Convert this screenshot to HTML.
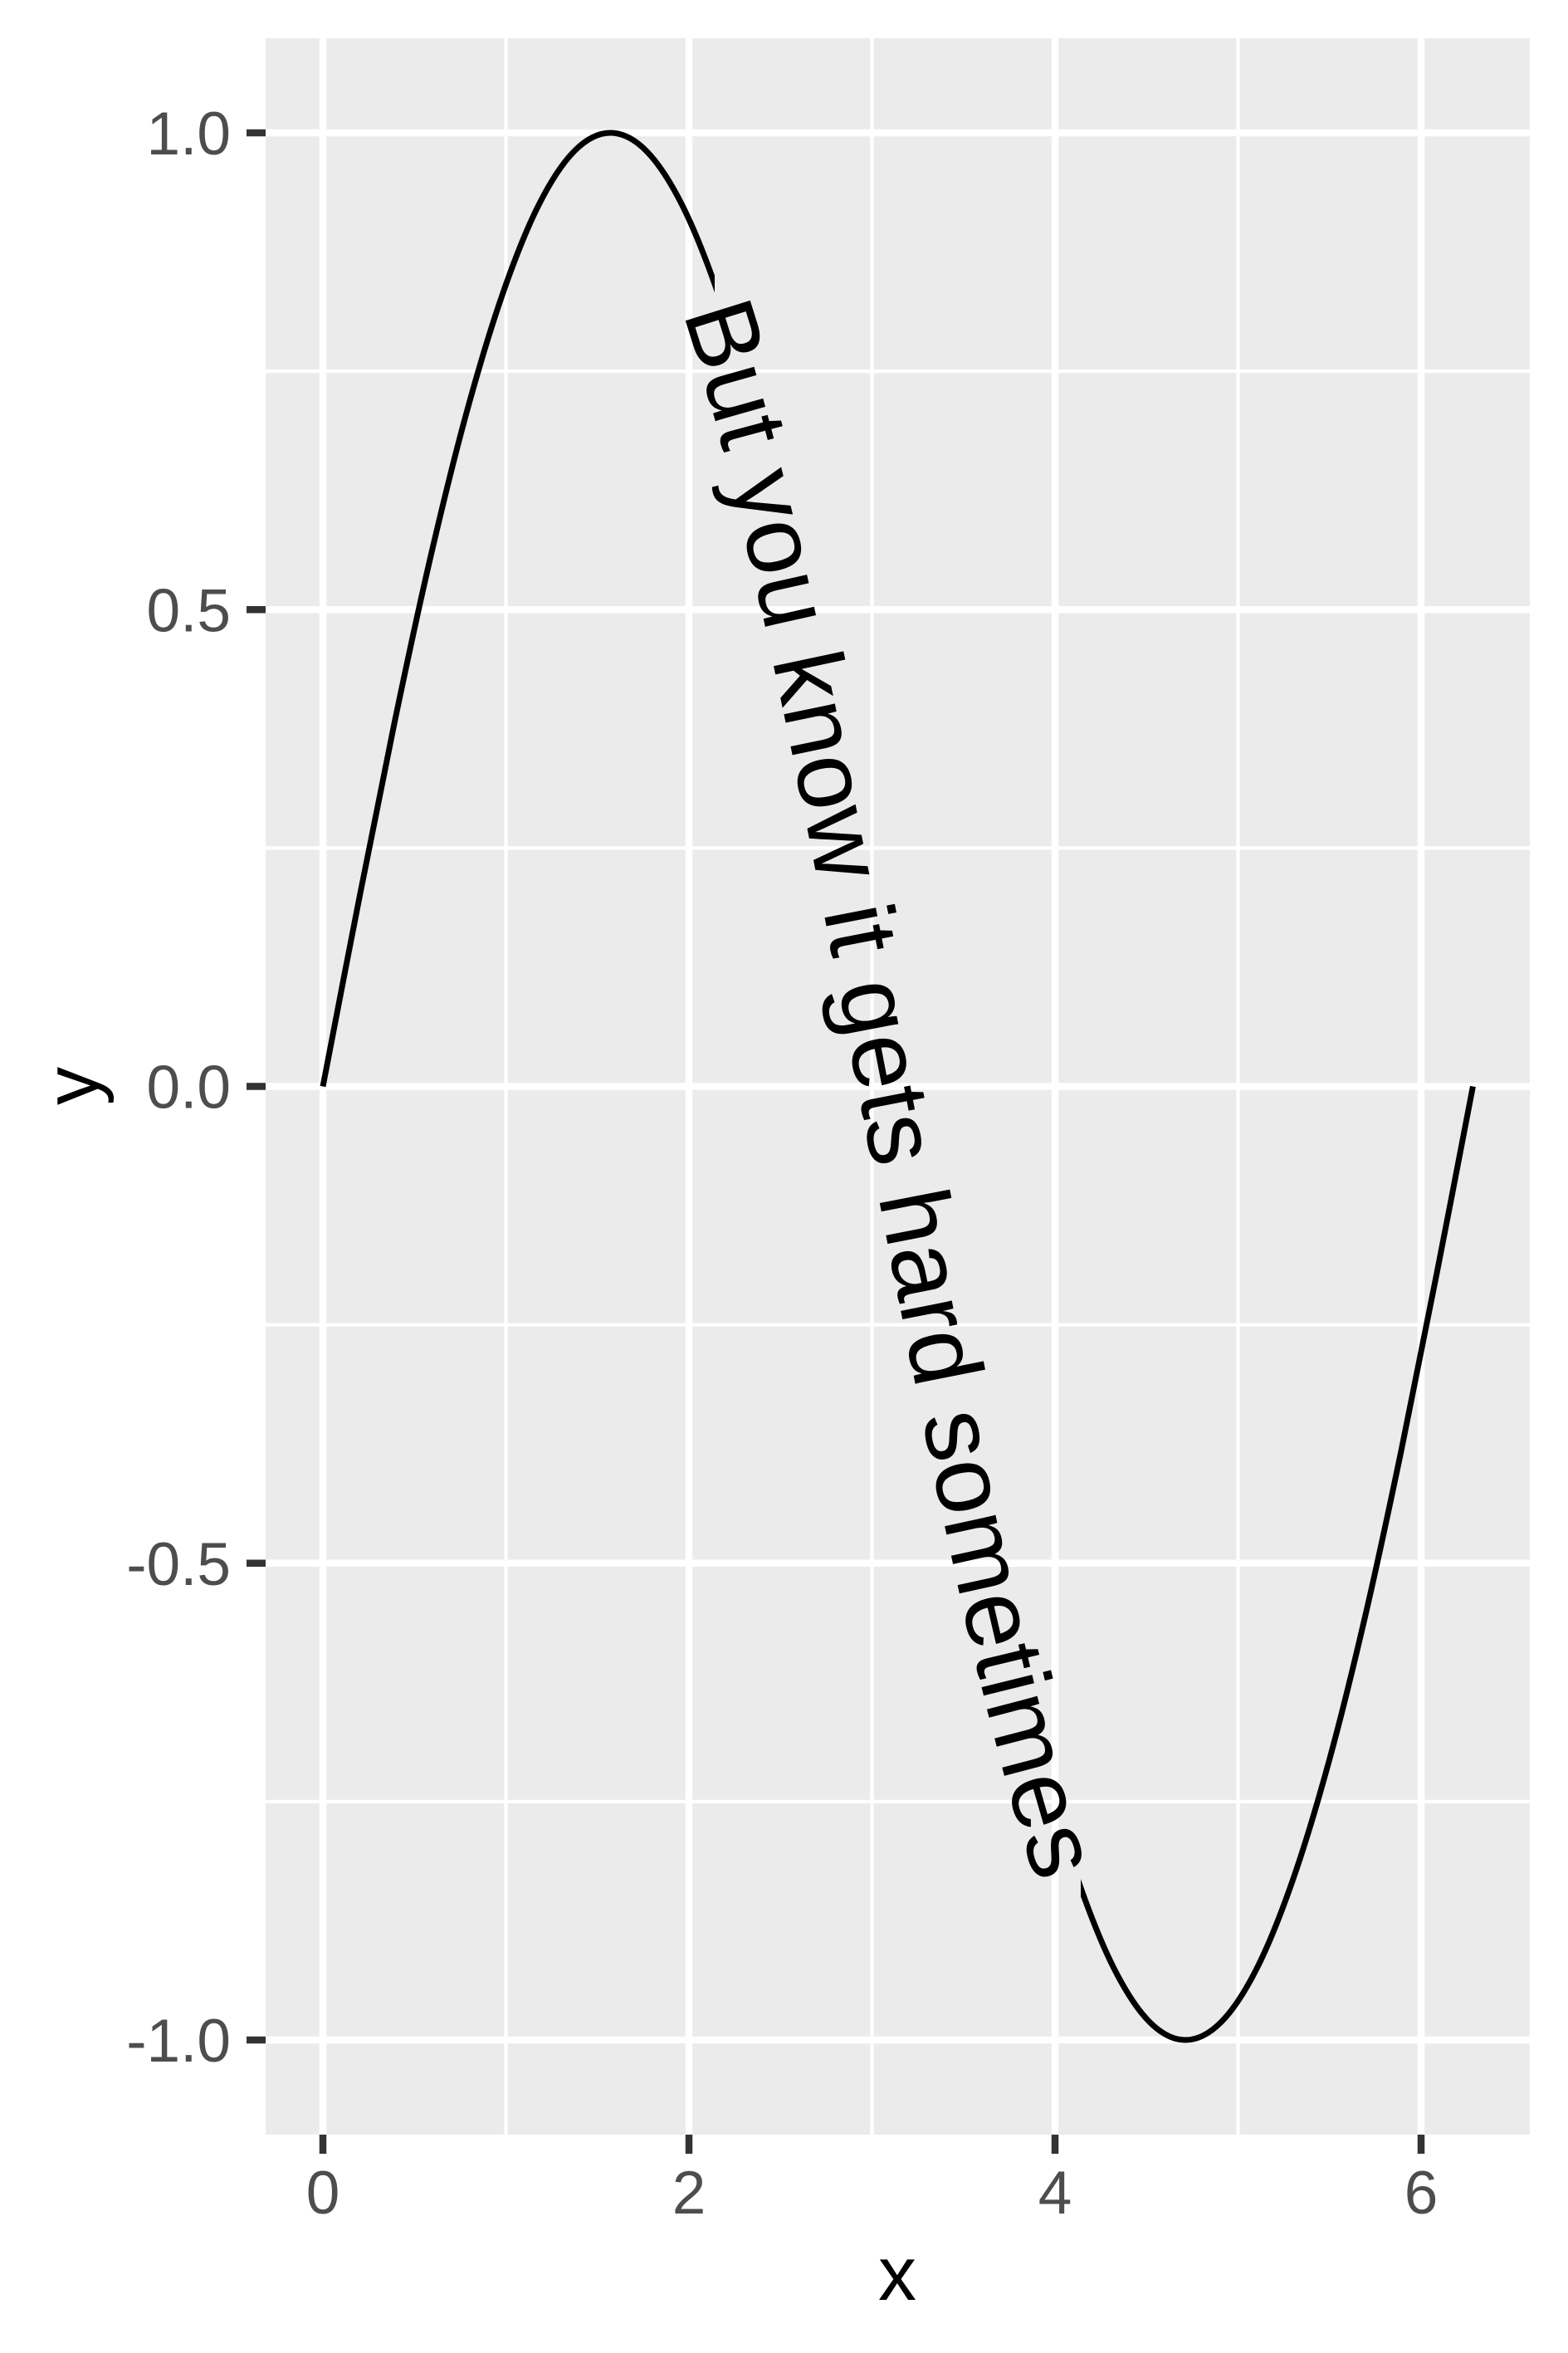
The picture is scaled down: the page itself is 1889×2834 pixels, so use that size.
<!DOCTYPE html>
<html><head><meta charset="utf-8"><style>
html,body{margin:0;padding:0;background:#fff;}
svg{display:block;font-family:"Liberation Sans",Arial,sans-serif;}
</style></head><body>
<svg id="chart" width="1889" height="2834" viewBox="0 0 1889 2834" xmlns="http://www.w3.org/2000/svg">
<rect x="0" y="0" width="1889" height="2834" fill="#fff"/>
<rect x="320" y="46" width="1523" height="2525" fill="#EBEBEB"/>
<g id="grid"></g>
<defs>
<clipPath id="gapclip"><rect x="320" y="0" width="541" height="2834"/><rect x="1302" y="0" width="560" height="2834"/></clipPath>
</defs>
<g id="marks"></g>
<g id="axes"></g>
<text x="1081" y="2770" font-size="92" text-anchor="middle" fill="#000">x</text>
<text transform="translate(118,1308) rotate(-90)" font-size="92" text-anchor="middle" fill="#000">y</text>
</svg>
<script>
const xBreaks = [0, 2, 4, 6];
const xMinor = [1, 3, 5];
const xTickLabels = ["0", "2", "4", "6"];
const yBreaks = [1, 0.5, 0, -0.5, -1];
const yMinor = [0.75, 0.25, -0.25, -0.75];
const yTickLabels = ["1.0", "0.5", "0.0", "-0.5", "-1.0"];
const xValues = [0,0.19635,0.3927,0.58905,0.7854,0.98175,1.1781,1.37445,1.5708,1.76715,1.9635,2.15985,2.3562,2.55255,2.7489,2.94525,3.14159,3.33794,3.53429,3.73064,3.92699,4.12334,4.31969,4.51604,4.71239,4.90874,5.10509,5.30144,5.49779,5.69414,5.89049,6.08684,6.28319];
const yValues = [0,0.195,0.383,0.556,0.707,0.831,0.924,0.981,1,0.981,0.924,0.831,0.707,0.556,0.383,0.195,0,-0.195,-0.383,-0.556,-0.707,-0.831,-0.924,-0.981,-1,-0.981,-0.924,-0.831,-0.707,-0.556,-0.383,-0.195,0];
const labelText = ["But you know it gets hard sometimes"];

const NS = "http://www.w3.org/2000/svg";
const X0 = 389, XU = 220.5, Y0 = 1308.5, YU = 1148.5;
const PL = 320, PR = 1843, PT = 46, PB = 2571;
function sx(v){ return X0 + v * XU; }
function sy(v){ return Y0 - v * YU; }
function mk(tag, attrs, parent){
  const e = document.createElementNS(NS, tag);
  for (const k in attrs) e.setAttribute(k, attrs[k]);
  parent.appendChild(e); return e;
}
const grid = document.getElementById('grid');
const axes = document.getElementById('axes');
const marks = document.getElementById('marks');

yMinor.forEach(v => {
  const l = mk('line', {x1:PL, x2:PR, y1:sy(v), y2:sy(v), stroke:'#fff', 'stroke-width':4.3}, grid);
  
  
});
xMinor.forEach(v => {
  const l = mk('line', {x1:sx(v), x2:sx(v), y1:PT, y2:PB, stroke:'#fff', 'stroke-width':4.3}, grid);
  
  
});
yBreaks.forEach((v, i) => {
  const l = mk('line', {x1:PL, x2:PR, y1:sy(v), y2:sy(v), stroke:'#fff', 'stroke-width':8.5}, grid);
  
  
  const t = mk('line', {x1:297, x2:PL, y1:sy(v), y2:sy(v), stroke:'#333', 'stroke-width':8.5}, axes);
  
  
  const tx = mk('text', {x:278, y:sy(v) + 26, 'font-size':73, 'text-anchor':'end', fill:'#4D4D4D'}, axes);
  tx.textContent = yTickLabels[i];
  
  
});
xBreaks.forEach((v, i) => {
  const l = mk('line', {x1:sx(v), x2:sx(v), y1:PT, y2:PB, stroke:'#fff', 'stroke-width':8.5}, grid);
  
  
  const t = mk('line', {x1:sx(v), x2:sx(v), y1:PB, y2:PB + 23, stroke:'#333', 'stroke-width':8.5}, axes);
  
  
  const tx = mk('text', {x:sx(v), y:2666, 'font-size':73, 'text-anchor':'middle', fill:'#4D4D4D'}, axes);
  tx.textContent = xTickLabels[i];
  
  
});

const pts = xValues.map((x, i) => [sx(x), sy(yValues[i])]);
let d = 'M' + pts[0][0] + ',' + pts[0][1];
for (let i = 0; i < pts.length - 1; i++) {
  const p0 = pts[Math.max(i - 1, 0)], p1 = pts[i], p2 = pts[i + 1], p3 = pts[Math.min(i + 2, pts.length - 1)];
  const c1 = [p1[0] + (p2[0] - p0[0]) / 6, p1[1] + (p2[1] - p0[1]) / 6];
  const c2 = [p2[0] - (p3[0] - p1[0]) / 6, p2[1] - (p3[1] - p1[1]) / 6];
  d += ' C' + c1[0] + ',' + c1[1] + ' ' + c2[0] + ',' + c2[1] + ' ' + p2[0] + ',' + p2[1];
}
const defs = document.querySelector('defs');
const guide = mk('path', {id:'curvepath', d:d, fill:'none'}, defs);
const line = mk('path', {d:d, fill:'none', stroke:'#000', 'stroke-width':7, 'clip-path':'url(#gapclip)'}, marks);



const txt = mk('text', {'font-size':118, fill:'#000', dy:48}, marks);


const tp = mk('textPath', {href:'#curvepath', startOffset:'50%', 'text-anchor':'middle'}, txt);
tp.setAttributeNS('http://www.w3.org/1999/xlink', 'xlink:href', '#curvepath');
tp.textContent = labelText[0];
try {
  const len = txt.getComputedTextLength();
  if (len > 0) {
    const fs = 118 * 1940 / len;
    txt.setAttribute('font-size', Math.max(95, Math.min(140, fs)));
  }
} catch (e) {}
</script>
</body></html>
